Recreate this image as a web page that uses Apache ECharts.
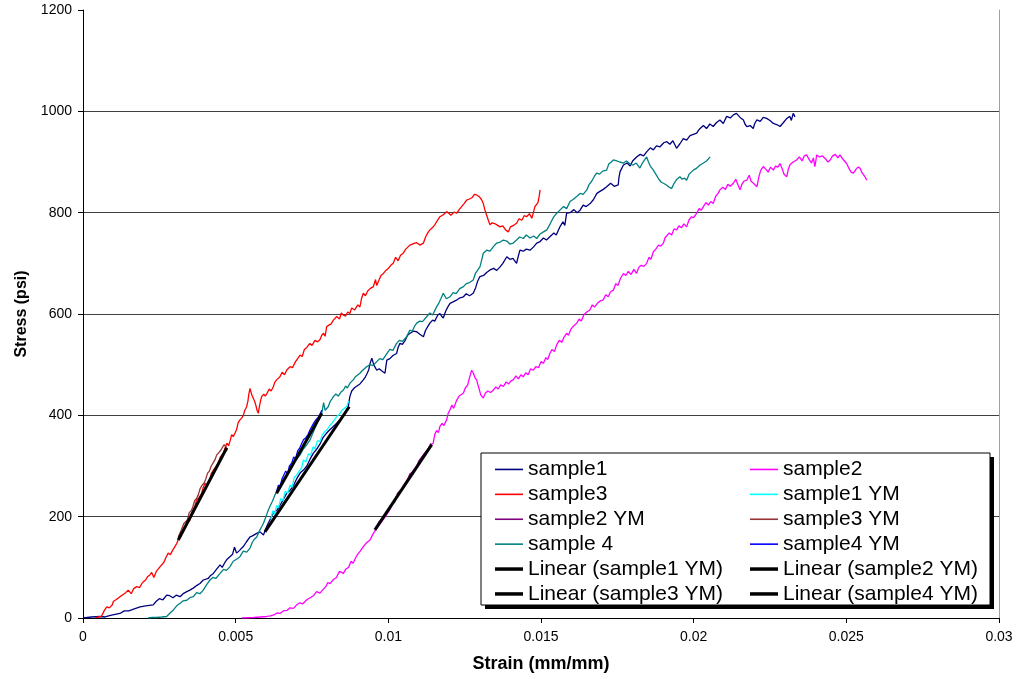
<!DOCTYPE html>
<html>
<head>
<meta charset="utf-8">
<script src="https://cdn.jsdelivr.net/npm/echarts@6/dist/echarts.min.js"></script>
<style>
html, body { margin: 0; padding: 0; background: #fff; }
#chart { width: 1018px; height: 679px; }
</style>
</head>
<body>
<div id="chart"></div>
<script>
// strain (mm/mm), stress (psi) pairs
const sample1 = [[0,0],[0.00028,2],[0.00056,3],[0.00072,2],[0.0009,5],[0.00105,7],[0.00121,9],[0.00135,14],[0.0015,14],[0.00168,18],[0.00187,22],[0.00205,24],[0.0023,26],[0.0024,33],[0.0025,38],[0.00262,36],[0.00274,45],[0.00284,44],[0.00295,40],[0.00305,45],[0.00318,42],[0.00328,48],[0.0034,52],[0.0035,55],[0.00361,59],[0.00372,64],[0.00383,68],[0.00394,75],[0.004,72],[0.0041,78],[0.00418,84],[0.00427,88],[0.00437,96],[0.00449,105],[0.00456,100],[0.00465,110],[0.00472,116],[0.00481,121],[0.0049,126],[0.00496,140],[0.00503,128],[0.00512,133],[0.00525,141],[0.00535,150],[0.00547,160],[0.00555,162],[0.00569,167],[0.0058,170],[0.00591,164],[0.00598,175],[0.00605,185],[0.00614,196],[0.00623,207],[0.00634,212],[0.00645,222],[0.00656,234],[0.00667,246],[0.00678,252],[0.0069,262],[0.007,275],[0.00711,286],[0.00722,292],[0.00733,300],[0.00744,314],[0.00754,325],[0.00765,333],[0.00775,342],[0.00786,356],[0.00798,365],[0.00809,372],[0.0082,378],[0.0083,384],[0.00842,391],[0.00856,404],[0.00869,417],[0.00872,430],[0.00874,437],[0.0088,448],[0.00885,445],[0.0089,455],[0.00896,457],[0.00907,462],[0.00918,470],[0.00925,476],[0.0093,482],[0.00936,490],[0.0094,502],[0.00946,513],[0.00952,500],[0.00962,489],[0.0097,492],[0.0098,487],[0.00989,483],[0.00992,496],[0.00995,509],[0.01005,512],[0.01015,518],[0.01027,522],[0.01032,534],[0.01038,542],[0.01046,540],[0.01055,548],[0.01063,558],[0.01071,562],[0.01082,566],[0.01093,565],[0.01103,560],[0.01115,555],[0.01122,568],[0.01128,574],[0.01136,582],[0.01145,588],[0.01152,586],[0.01162,598],[0.01169,601],[0.01174,596],[0.0118,592],[0.01188,606],[0.01195,614],[0.01202,621],[0.01212,624],[0.01225,628],[0.01235,632],[0.01246,634],[0.01255,640],[0.01266,636],[0.01278,641],[0.01286,652],[0.01292,664],[0.013,674],[0.01312,676],[0.01322,682],[0.01333,687],[0.01345,690],[0.01355,686],[0.01366,693],[0.01375,700],[0.01388,713],[0.01398,708],[0.01408,710],[0.0142,700],[0.01426,715],[0.01431,726],[0.01442,724],[0.01452,728],[0.01464,726],[0.01475,732],[0.01486,740],[0.01497,743],[0.01508,750],[0.01518,746],[0.0153,753],[0.01542,760],[0.0155,756],[0.01562,772],[0.01572,782],[0.01578,775],[0.01584,799],[0.01595,800],[0.01608,806],[0.01618,800],[0.01628,805],[0.01638,815],[0.01648,812],[0.01661,818],[0.01672,826],[0.01683,838],[0.01693,842],[0.01704,846],[0.01715,851],[0.01728,858],[0.0174,852],[0.01753,855],[0.01755,868],[0.01759,881],[0.01765,888],[0.0177,894],[0.01782,898],[0.01792,892],[0.018,902],[0.01813,910],[0.01825,915],[0.01836,912],[0.01846,920],[0.01858,928],[0.01868,924],[0.01878,932],[0.0189,930],[0.01902,938],[0.01912,940],[0.01922,935],[0.01932,942],[0.01944,927],[0.01955,936],[0.01966,946],[0.01977,943],[0.01988,952],[0.0201,957],[0.02015,962],[0.02021,966],[0.02032,972],[0.02042,966],[0.02053,975],[0.02064,970],[0.02075,978],[0.02086,983],[0.02097,976],[0.02108,990],[0.0212,987],[0.0213,993],[0.0214,996],[0.02152,988],[0.02163,983],[0.02168,975],[0.02174,970],[0.02185,972],[0.02195,966],[0.022,976],[0.02207,983],[0.02218,980],[0.02228,988],[0.02239,986],[0.0225,982],[0.02261,976],[0.02272,974],[0.02283,970],[0.02294,978],[0.02305,986],[0.02315,990],[0.0232,982],[0.02326,996],[0.02332,989]];

const sample2 = [[0.0052,0],[0.0056,1],[0.00602,3],[0.00614,4],[0.00625,6],[0.00635,10],[0.00645,9],[0.00656,14],[0.00668,15],[0.00678,20],[0.00689,19],[0.007,26],[0.0071,30],[0.0072,28],[0.00733,36],[0.00744,40],[0.00755,44],[0.00765,52],[0.00776,49],[0.00786,56],[0.00795,62],[0.00802,70],[0.00809,68],[0.0082,76],[0.0083,80],[0.0084,92],[0.00853,88],[0.0086,96],[0.0087,100],[0.00878,112],[0.00885,108],[0.00892,118],[0.009,126],[0.00908,132],[0.00918,141],[0.00928,148],[0.0094,154],[0.0095,166],[0.00962,177],[0.0099,200],[0.01005,214],[0.0102,232],[0.01035,246],[0.0105,262],[0.01065,276],[0.0108,290],[0.01095,302],[0.0111,318],[0.01125,330],[0.0114,342],[0.01147,345],[0.01152,362],[0.01158,370],[0.01164,366],[0.01169,378],[0.01176,384],[0.01182,380],[0.01191,391],[0.01196,404],[0.01202,411],[0.01208,420],[0.01214,414],[0.01224,430],[0.01232,438],[0.01238,436],[0.01246,444],[0.01252,454],[0.0126,460],[0.01266,475],[0.01273,489],[0.01278,484],[0.01284,474],[0.01289,470],[0.01296,455],[0.01303,440],[0.01311,434],[0.01318,444],[0.01326,448],[0.01335,445],[0.01344,450],[0.01352,456],[0.0136,452],[0.01368,460],[0.01377,457],[0.01386,466],[0.01394,462],[0.01402,468],[0.01409,470],[0.01418,478],[0.01426,472],[0.01434,480],[0.01442,476],[0.0145,484],[0.01458,480],[0.01466,492],[0.01475,489],[0.01483,496],[0.01492,494],[0.015,506],[0.01508,503],[0.01516,514],[0.01522,510],[0.01529,522],[0.01536,530],[0.01544,526],[0.01552,540],[0.0156,548],[0.01568,544],[0.01576,555],[0.01584,562],[0.0159,558],[0.01598,570],[0.01606,576],[0.01617,582],[0.01625,590],[0.01632,586],[0.0164,598],[0.0165,604],[0.0166,608],[0.01668,618],[0.01676,614],[0.01686,622],[0.01695,626],[0.01704,628],[0.01712,638],[0.0172,634],[0.01728,644],[0.01737,647],[0.01745,660],[0.01752,656],[0.0176,670],[0.0177,680],[0.01778,676],[0.01786,684],[0.01795,678],[0.01804,688],[0.01813,680],[0.0182,692],[0.01828,696],[0.01837,694],[0.01846,700],[0.01854,712],[0.0186,708],[0.01868,723],[0.01876,728],[0.01885,736],[0.01892,734],[0.01901,740],[0.01906,750],[0.01912,753],[0.0192,760],[0.01928,756],[0.01936,768],[0.01944,766],[0.01952,774],[0.0196,770],[0.01968,778],[0.01977,772],[0.01985,786],[0.01993,792],[0.02,790],[0.0201,799],[0.02018,808],[0.02025,805],[0.02032,812],[0.0204,820],[0.02048,815],[0.02056,822],[0.02064,818],[0.02072,832],[0.0208,838],[0.02086,845],[0.02095,850],[0.02104,846],[0.02112,856],[0.0212,852],[0.0213,858],[0.02138,866],[0.02145,855],[0.02152,845],[0.02158,856],[0.02164,862],[0.02174,864],[0.02182,874],[0.02188,862],[0.02196,858],[0.02207,851],[0.02214,872],[0.0222,884],[0.02228,891],[0.02236,886],[0.02244,880],[0.02252,890],[0.02261,884],[0.02268,892],[0.02276,890],[0.02283,897],[0.0229,886],[0.02296,876],[0.02305,871],[0.0231,886],[0.02316,895],[0.02326,900],[0.02337,904],[0.02346,910],[0.02355,902],[0.02362,912],[0.0237,914],[0.02378,905],[0.02386,898],[0.02392,908],[0.02397,891],[0.024,902],[0.02403,914],[0.02412,910],[0.02422,912],[0.02432,906],[0.0244,900],[0.02447,904],[0.02455,912],[0.02464,915],[0.02472,908],[0.02479,914],[0.02488,906],[0.02494,902],[0.02501,897],[0.02508,888],[0.02516,880],[0.02523,878],[0.02532,886],[0.02538,890],[0.02545,888],[0.0255,880],[0.02556,875],[0.02562,870],[0.02567,864]];

const sample3 = [[0.0004,0],[0.0005,2],[0.0006,3],[0.0007,15],[0.00078,22],[0.00086,20],[0.00095,25],[0.001,33],[0.00108,36],[0.00114,34],[0.00121,42],[0.0013,46],[0.0014,50],[0.00148,55],[0.00158,48],[0.00166,58],[0.00176,62],[0.00185,60],[0.00195,70],[0.00205,75],[0.00212,82],[0.00219,85],[0.00225,90],[0.00232,80],[0.0024,92],[0.00252,101],[0.00258,98],[0.00265,110],[0.00272,120],[0.00279,128],[0.00286,125],[0.00293,133],[0.003,140],[0.00307,147],[0.00312,155],[0.00318,167],[0.00326,172],[0.00335,180],[0.00342,188],[0.0035,193],[0.00356,205],[0.00362,215],[0.00367,222],[0.00372,233],[0.0038,238],[0.00388,245],[0.00394,258],[0.004,266],[0.00408,262],[0.00415,272],[0.0042,285],[0.00427,292],[0.00435,298],[0.00443,305],[0.0045,318],[0.0046,325],[0.00465,335],[0.00471,345],[0.00477,340],[0.00482,350],[0.00487,362],[0.00492,358],[0.00498,365],[0.00503,372],[0.00508,385],[0.00514,391],[0.0052,395],[0.00525,400],[0.0053,410],[0.00536,417],[0.0054,428],[0.00544,445],[0.00547,453],[0.0055,450],[0.00553,440],[0.00558,437],[0.00562,428],[0.00566,420],[0.0057,410],[0.00574,404],[0.00578,418],[0.00582,430],[0.00585,437],[0.00592,442],[0.00597,438],[0.00603,444],[0.0061,452],[0.00616,448],[0.00623,456],[0.00628,465],[0.00634,470],[0.0064,468],[0.00645,476],[0.00652,485],[0.0066,480],[0.00668,490],[0.00678,496],[0.00686,494],[0.00695,505],[0.00703,512],[0.00711,519],[0.00718,516],[0.00725,530],[0.00733,534],[0.00743,542],[0.0075,538],[0.0076,548],[0.00768,545],[0.00776,549],[0.00782,558],[0.00788,562],[0.00793,556],[0.00798,575],[0.00805,578],[0.00812,580],[0.0082,588],[0.00831,595],[0.0084,590],[0.00846,602],[0.00852,598],[0.0086,596],[0.00867,604],[0.00874,601],[0.0088,612],[0.0089,608],[0.009,618],[0.00907,614],[0.00912,630],[0.00918,641],[0.00925,636],[0.00932,645],[0.0094,650],[0.00951,654],[0.00958,668],[0.00962,656],[0.00968,665],[0.00976,676],[0.00984,680],[0.00992,686],[0.01,690],[0.01008,696],[0.01016,700],[0.01024,712],[0.01032,705],[0.0104,716],[0.01049,720],[0.01057,728],[0.01064,732],[0.01071,736],[0.01082,739],[0.01092,741],[0.01103,736],[0.01115,740],[0.01122,752],[0.01129,760],[0.01136,766],[0.01144,770],[0.01152,776],[0.0116,784],[0.01169,792],[0.0118,796],[0.01191,802],[0.01198,799],[0.01205,795],[0.01215,801],[0.01224,799],[0.01232,806],[0.0124,812],[0.01248,818],[0.01257,825],[0.01266,827],[0.01275,830],[0.01282,836],[0.01289,835],[0.01297,832],[0.01305,826],[0.01311,818],[0.01316,806],[0.01322,795],[0.01328,784],[0.01333,776],[0.0134,780],[0.0135,778],[0.01358,775],[0.01366,772],[0.01375,774],[0.01384,766],[0.01393,762],[0.014,772],[0.01406,770],[0.01413,776],[0.0142,779],[0.01428,788],[0.01437,785],[0.01445,794],[0.01453,792],[0.01462,798],[0.0147,789],[0.01475,800],[0.0148,812],[0.01485,810],[0.0149,820],[0.01494,832],[0.01497,845]];

const sample4 = [[0.00213,0],[0.00227,1],[0.00241,1],[0.00258,2],[0.00274,3],[0.00285,10],[0.00296,16],[0.00307,24],[0.00318,29],[0.00328,34],[0.0034,35],[0.0035,40],[0.00361,42],[0.00372,50],[0.00383,48],[0.00394,55],[0.00405,66],[0.00416,75],[0.00425,80],[0.00435,78],[0.00449,88],[0.0046,96],[0.0047,94],[0.00481,101],[0.00492,112],[0.00503,116],[0.00514,121],[0.00525,132],[0.00536,130],[0.00547,138],[0.00555,150],[0.00562,156],[0.00569,160],[0.00578,172],[0.00585,180],[0.00591,187],[0.00598,198],[0.00605,210],[0.00612,220],[0.0062,230],[0.00628,242],[0.00634,249],[0.00645,262],[0.00655,272],[0.00666,282],[0.00678,292],[0.0069,306],[0.007,314],[0.00711,322],[0.00722,334],[0.00733,342],[0.00743,351],[0.00755,368],[0.00768,386],[0.00776,395],[0.00782,404],[0.00788,425],[0.00793,410],[0.00798,412],[0.00803,417],[0.0081,428],[0.00815,432],[0.0082,437],[0.00828,442],[0.00836,438],[0.00845,446],[0.00853,450],[0.0086,458],[0.00866,454],[0.00875,464],[0.00885,470],[0.00892,476],[0.00898,474],[0.00907,483],[0.00914,488],[0.0092,486],[0.00929,496],[0.0094,500],[0.0095,498],[0.00962,506],[0.00972,512],[0.00982,510],[0.00995,522],[0.01005,530],[0.01015,528],[0.01027,542],[0.01036,548],[0.01046,546],[0.0106,555],[0.0107,568],[0.01078,566],[0.01086,576],[0.01093,582],[0.01103,586],[0.01112,585],[0.01126,595],[0.01136,602],[0.01145,598],[0.01158,614],[0.01166,622],[0.01172,630],[0.0118,641],[0.0119,630],[0.01202,634],[0.01212,642],[0.01222,640],[0.01234,650],[0.01246,654],[0.01255,660],[0.01266,662],[0.01278,667],[0.01285,680],[0.01292,686],[0.013,693],[0.01305,705],[0.01311,720],[0.01322,726],[0.01333,724],[0.01344,733],[0.01355,740],[0.01366,742],[0.01377,746],[0.01388,744],[0.01398,738],[0.01409,740],[0.0142,746],[0.0143,752],[0.01442,749],[0.01452,756],[0.01464,750],[0.01476,754],[0.01486,749],[0.01497,758],[0.01508,762],[0.01519,766],[0.0153,778],[0.0154,790],[0.0155,798],[0.01562,805],[0.01574,812],[0.01584,808],[0.01595,822],[0.01605,826],[0.01617,832],[0.01628,838],[0.01638,836],[0.0165,845],[0.01658,856],[0.01666,862],[0.01675,872],[0.01682,878],[0.01692,876],[0.01702,882],[0.01715,884],[0.01722,896],[0.0173,900],[0.01737,904],[0.01748,902],[0.01758,900],[0.0177,898],[0.0178,902],[0.01792,896],[0.01802,894],[0.01812,898],[0.01824,888],[0.01832,898],[0.01846,910],[0.01852,900],[0.01858,892],[0.01868,884],[0.01876,876],[0.01886,866],[0.01894,860],[0.01901,858],[0.01912,854],[0.0192,850],[0.01928,848],[0.01936,858],[0.01945,866],[0.01955,871],[0.01962,866],[0.0197,868],[0.01977,864],[0.01985,876],[0.01992,880],[0.01999,884],[0.0201,888],[0.02021,894],[0.02032,898],[0.02042,902],[0.02054,910]];

const sample1YM = [[0.00615,195],[0.00622,212],[0.00628,205],[0.00634,222],[0.0064,218],[0.00648,236],[0.00655,232],[0.00662,250],[0.0067,246],[0.00678,262],[0.00685,258],[0.00692,278],[0.007,282],[0.00708,290],[0.00716,296],[0.00722,312],[0.0073,308],[0.00738,324],[0.00746,322],[0.00754,338],[0.0076,334],[0.00768,350],[0.00776,348],[0.00784,362],[0.00792,368],[0.008,372],[0.00808,380],[0.00816,385],[0.00824,392],[0.00832,398],[0.0084,402],[0.00848,410],[0.00856,414],[0.00864,418],[0.0087,428]];
const sample2YM = [[0.0096,176],[0.0097,190],[0.0098,194],[0.0099,204],[0.01,212],[0.0101,224],[0.0102,228],[0.0103,246],[0.0104,252],[0.0105,258],[0.0106,268],[0.0107,284],[0.0108,288],[0.0109,296],[0.011,310],[0.0111,318],[0.0112,326],[0.0113,334],[0.0114,345]];
const sample3YM = [[0.00312,160],[0.00318,168],[0.00324,168],[0.0033,186],[0.00336,190],[0.00342,194],[0.00348,208],[0.00355,212],[0.0036,220],[0.00366,232],[0.00372,236],[0.00378,244],[0.00384,256],[0.0039,262],[0.00396,266],[0.00402,274],[0.00408,286],[0.00414,290],[0.0042,300],[0.00426,298],[0.00432,312],[0.00438,322],[0.00444,326],[0.0045,330],[0.00456,336],[0.00462,342],[0.00468,338],[0.00471,330]];
const sample4YM = [[0.00634,250],[0.0064,262],[0.00645,258],[0.00652,275],[0.00658,272],[0.00664,290],[0.0067,284],[0.00676,300],[0.00684,306],[0.0069,318],[0.00696,314],[0.00703,330],[0.0071,336],[0.00716,334],[0.00722,352],[0.0073,356],[0.00737,362],[0.00744,372],[0.0075,370],[0.00757,386],[0.00764,392],[0.0077,396],[0.00776,402],[0.00782,410]];

// trend line end points
const linear1 = [[0.00596,170],[0.00872,417]];
const linear2 = [[0.00956,174],[0.01142,342]];
const linear3 = [[0.00312,154],[0.00471,336]];
const linear4 = [[0.00634,246],[0.00782,404]];

const legendLeft = ['sample1','sample3','sample2 YM','sample 4','Linear (sample1 YM)','Linear (sample3 YM)'];
const legendRight = ['sample2','sample1 YM','sample3 YM','sample4 YM','Linear (sample2 YM)','Linear (sample4 YM)'];

let chart = echarts.init(document.getElementById('chart'));

function line(name, data, color, width) {
	return {
		name: name,
		type: 'line',
		data: data,
		symbol: 'none',
		showSymbol: false,
		color: color,
		lineStyle: { color: color, width: width },
		z: width > 2 ? 5 : 3
	};
}

// thin bar icon for the colour series, thick bar for the trend lines
function legendItems(names) {
	return names.map(function (n) {
		let thick = n.indexOf('Linear') === 0;
		return { name: n, icon: thick ? 'path://M0,0H28V3.5H0Z' : 'path://M0,0H28V1.6H0Z' };
	});
}

let legendBase = {
	orient: 'vertical',
	top: 452,
	itemWidth: 28,
	itemHeight: 10,
	itemGap: 0,
	z: 20,
	textStyle: { fontFamily: 'Liberation Sans, Arial', fontSize: 21, color: '#000', lineHeight: 24.9 }
};

let option = {
	animation: false,
	backgroundColor: '#fff',
	textStyle: { fontFamily: 'Liberation Sans, Arial' },
	grid: { left: 83, right: 19, top: 10, bottom: 61 },
	legend: [
		Object.assign({}, legendBase, { left: 490, data: legendItems(legendLeft) }),
		Object.assign({}, legendBase, { left: 745, data: legendItems(legendRight) })
	],
	graphic: [
		{ type: 'rect', z: 15, shape: { x: 485, y: 457, width: 509, height: 152 }, style: { fill: '#000' } },
		{ type: 'rect', z: 16, shape: { x: 481, y: 453, width: 509, height: 152 }, style: { fill: '#fff', stroke: '#000', lineWidth: 1 } }
	],
	xAxis: {
		type: 'value',
		min: 0,
		max: 0.03,
		interval: 0.005,
		name: 'Strain (mm/mm)',
		nameLocation: 'middle',
		nameGap: 37,
		nameTextStyle: { fontSize: 18, fontWeight: 'bold', color: '#000' },
		axisLine: { lineStyle: { color: '#000', width: 1 } },
		axisTick: { show: true, inside: false, length: 5, lineStyle: { color: '#000' } },
		axisLabel: { fontSize: 14, color: '#000', margin: 12 },
		splitLine: { show: false }
	},
	yAxis: [
		{
			type: 'value',
			min: 0,
			max: 1200,
			interval: 200,
			name: 'Stress (psi)',
			nameLocation: 'middle',
			nameGap: 49,
			nameTextStyle: { fontSize: 16, fontWeight: 'bold', color: '#000' },
			axisLine: { show: true, lineStyle: { color: '#000', width: 1 } },
			axisTick: { show: true, inside: false, length: 5, lineStyle: { color: '#000' } },
			axisLabel: { fontSize: 14, color: '#000', margin: 11, formatter: function (v) { return String(v); } },
			splitLine: { show: true, showMinLine: false, showMaxLine: false, lineStyle: { color: '#404040', width: 1 } }
		},
		{
			type: 'value',
			position: 'right',
			min: 0,
			max: 1200,
			axisLine: { show: true, lineStyle: { color: '#a0a0a0', width: 1 } },
			axisTick: { show: false },
			axisLabel: { show: false },
			splitLine: { show: false }
		}
	],
	series: [
		line('sample1', sample1, '#000080', 1.3),
		line('sample2', sample2, '#FF00FF', 1.3),
		line('sample3', sample3, '#FF0000', 1.3),
		line('sample1 YM', sample1YM, '#00FFFF', 1.3),
		line('sample2 YM', sample2YM, '#800080', 1.3),
		line('sample3 YM', sample3YM, '#993333', 1.3),
		line('sample 4', sample4, '#008080', 1.3),
		line('sample4 YM', sample4YM, '#0000FF', 1.3),
		line('Linear (sample1 YM)', linear1, '#000', 3),
		line('Linear (sample2 YM)', linear2, '#000', 3),
		line('Linear (sample3 YM)', linear3, '#000', 3),
		line('Linear (sample4 YM)', linear4, '#000', 3)
	]
};

chart.setOption(option);
</script>
</body>
</html>
